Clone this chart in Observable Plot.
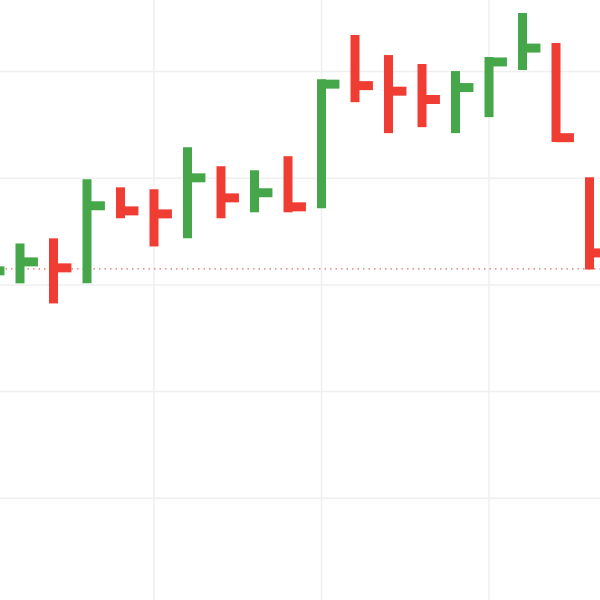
<!DOCTYPE html>
<html>
<head>
<meta charset="utf-8">
<script src="https://cdn.jsdelivr.net/npm/d3@7"></script>
<script src="https://cdn.jsdelivr.net/npm/@observablehq/plot@0.6"></script>
<style>
  html, body { margin: 0; padding: 0; background: #fff; }
  #chart svg { display: block; }
</style>
</head>
<body>
<div id="chart"></div>
<script>
// Bar index (session number)
const index = [0, 1, 2, 3, 4, 5, 6, 7, 8, 9, 10, 11, 12, 13, 14, 15, 16, 17, 18];
// High / low / close prices
const highs  = [101.36, 101.92, 102.16, 104.93, 104.55, 104.46, 106.43, 105.54, 105.35, 106.01, 109.62, 111.69, 110.75, 110.33, 110.00, 110.66, 112.72, 111.31, 105.02];
const lows   = [ 99.25, 100.05,  99.11, 100.05, 103.10, 101.78, 102.16, 103.10, 103.38, 103.38, 103.57, 108.54, 107.09, 107.37, 107.09, 107.84, 110.05, 106.67, 100.70];
const closes = [100.66, 101.08, 100.80, 103.71, 103.47, 103.33, 105.02, 104.08, 104.32, 103.66, 109.41, 109.34, 109.08, 108.69, 109.25, 110.45, 111.10, 106.90, 101.50];
// Reference (dotted) price level
const refLevel = [100.75];
// Grid tick positions
const xGridTicks = [0, 5, 10, 15, 20];
const yGridTicks = [90, 95, 100, 105, 110];

const upColor = "#46a74a";
const downColor = "#ef3d33";

const bars = index.map((i, k) => ({
  i,
  high: highs[k],
  low: lows[k],
  close: closes[k],
  up: k === 0 ? true : closes[k] >= closes[k - 1]
}));

const chart = Plot.plot({
  width: 600,
  height: 600,
  margin: 0,
  x: { domain: [0.418, 18.328], axis: null },
  y: { domain: [85.21, 113.33], axis: null },
  marks: [
    Plot.ruleX(xGridTicks, { stroke: "#efefef", strokeWidth: 1.5 }),
    Plot.ruleY(yGridTicks, { stroke: "#efefef", strokeWidth: 1.5 }),
    Plot.ruleY(refLevel, { stroke: "#d9534f", strokeOpacity: 0.85, strokeWidth: 1.3, strokeDasharray: "1.5,4" }),
    Plot.ruleX(bars, {
      x: "i", y1: "low", y2: "high",
      stroke: d => d.up ? upColor : downColor,
      strokeWidth: 9, strokeLinecap: "butt"
    }),
    Plot.ruleY(bars, {
      x1: "i", x2: d => d.i + 0.55, y: "close",
      stroke: d => d.up ? upColor : downColor,
      strokeWidth: 9, strokeLinecap: "butt"
    })
  ]
});
document.getElementById("chart").appendChild(chart);
</script>
</body>
</html>
